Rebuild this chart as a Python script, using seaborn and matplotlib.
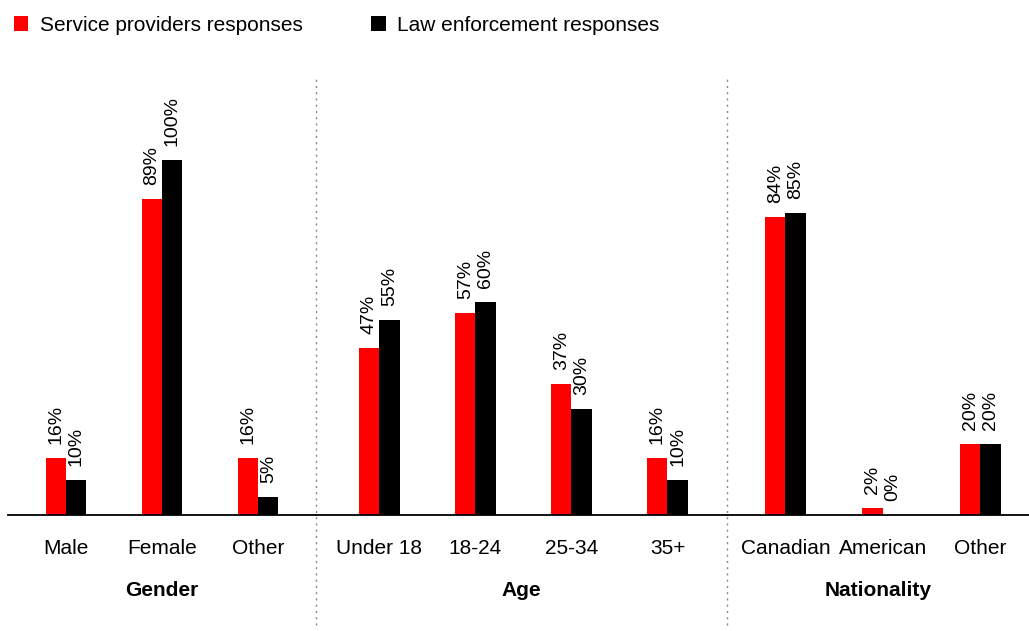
import pandas as pd
import matplotlib.pyplot as plt
import seaborn as sns
from matplotlib.lines import Line2D

# 資料
series_names = ["Service providers responses", "Law enforcement responses"]
colors = ["#ff0000", "#000000"]

gender_cats = ["Male", "Female", "Other"]
gender_sp = [16, 89, 16]
gender_le = [10, 100, 5]

age_cats = ["Under 18", "18-24", "25-34", "35+"]
age_sp = [47, 57, 37, 16]
age_le = [55, 60, 30, 10]

nat_cats = ["Canadian", "American", "Other"]
nat_sp = [84, 2, 20]
nat_le = [85, 0, 20]

groups = [
    ("Gender", gender_cats, gender_sp, gender_le),
    ("Age", age_cats, age_sp, age_le),
    ("Nationality", nat_cats, nat_sp, nat_le),
]


def make_df(cats, sp, le):
    rows = []
    for c, a, b in zip(cats, sp, le):
        rows.append({"cat": c, "val": a, "series": series_names[0]})
        rows.append({"cat": c, "val": b, "series": series_names[1]})
    return pd.DataFrame(rows)


sns.set_style("white")
plt.rcParams["font.family"] = ["Liberation Sans", "DejaVu Sans"]
plt.rcParams["text.color"] = "black"
plt.rcParams["axes.labelcolor"] = "black"
plt.rcParams["xtick.color"] = "black"

fig = plt.figure(figsize=(10.29, 6.31), dpi=100)
gs = fig.add_gridspec(1, 3, width_ratios=[308, 411, 302], wspace=0,
                      left=8 / 1029, right=1.0, bottom=1 - 515 / 631, top=1 - 78 / 631)
xlims = [(-0.6, 2.6), (-0.66, 3.62), (-0.6, 2.5)]

axes = []
for i, (title, cats, sp, le) in enumerate(groups):
    ax = fig.add_subplot(gs[0, i])
    df = make_df(cats, sp, le)
    sns.barplot(data=df, x="cat", y="val", hue="series", hue_order=series_names,
                palette=colors, width=0.42, ax=ax, saturation=1, linewidth=0,
                legend=(i == 0))
    for cont in ax.containers:
        ax.bar_label(cont, fmt="%d%%", rotation=90, padding=10, fontsize=14)
    ax.set_ylim(0, 123.1)
    ax.set_xlim(*xlims[i])
    ax.set_ylabel("")
    ax.set_yticks([])
    ax.set_xlabel(title, fontsize=15, fontweight="bold", labelpad=17)
    ax.tick_params(axis="x", length=0, pad=17, labelsize=15)
    for s in ["top", "left", "right"]:
        ax.spines[s].set_visible(False)
    ax.spines["bottom"].set_color("black")
    ax.spines["bottom"].set_linewidth(1.3)
    axes.append(ax)

# 圖例
handles, labels = axes[0].get_legend_handles_labels()
axes[0].get_legend().remove()
fig.legend(handles, labels, loc="upper left", bbox_to_anchor=(-0.002, 1.0), ncol=2,
           frameon=False, fontsize=15, handlelength=0.7, handleheight=0.7,
           handletextpad=0.55, columnspacing=3.3, borderaxespad=0.35)

# 分隔線
for ax in axes[1:]:
    x0 = ax.get_position().x0
    fig.add_artist(Line2D([x0, x0], [1 - 625 / 631, 1 - 78 / 631], color="#888888",
                          linestyle=(0, (1.5, 3)), linewidth=1, transform=fig.transFigure))

plt.savefig("out.png", dpi=100)
